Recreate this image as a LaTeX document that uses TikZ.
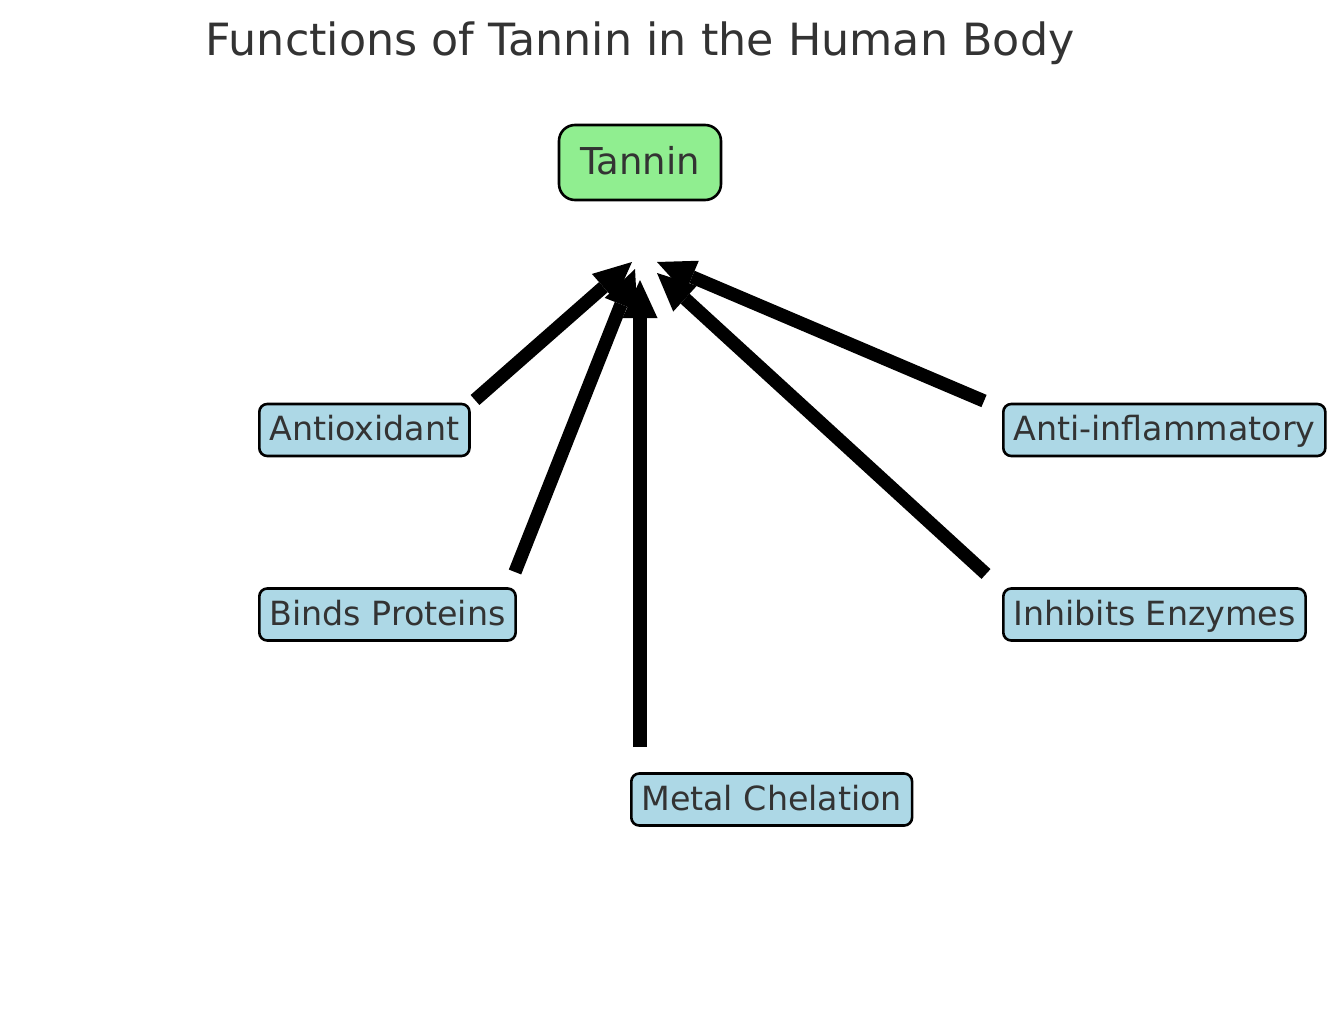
\documentclass[tikz,border=0pt]{standalone}
\usepackage{fontspec}
\setmainfont{DejaVu Sans}
\usetikzlibrary{arrows.meta}
\definecolor{txtgrey}{HTML}{333333}
\definecolor{boxblue}{HTML}{ADD8E6}
\definecolor{boxgreen}{HTML}{90EE90}
\tikzset{
  titletext/.style={font=\fontsize{44.4pt}{50pt}\selectfont, text=txtgrey, inner sep=0pt, anchor=base},
  mainbox/.style={draw=black, line width=2.6pt, fill=boxgreen, rounded corners=16pt,
    font=\fontsize{37pt}{42pt}\selectfont, text=txtgrey, inner sep=0pt,
    minimum width=162pt, minimum height=75pt, text height=28pt, text depth=3pt},
  labelbox/.style={draw=black, line width=2.6pt, fill=boxblue, rounded corners=8pt,
    font=\fontsize{33.3pt}{38pt}\selectfont, text=txtgrey, inner xsep=10pt, inner ysep=0pt,
    minimum height=52pt, text height=26pt, text depth=5pt, anchor=west},
  fatarrow/.style={draw=black, line width=13.3pt,
    -{Triangle[length=38pt, width=35pt, line width=0pt]}},
}
\begin{document}
\begin{tikzpicture}[x=1pt, y=-1pt]
  \useasboundingbox (0,0) rectangle (1334,1014);
  \node[titletext] (title) at (640,56) {Functions of Tannin in the Human Body};
  \node[mainbox] (tannin) at (640,162.5) {Tannin};
  \node[labelbox] (antiox) at (258,430) {Antioxidant};
  \node[labelbox] (binds) at (258,614.5) {Binds Proteins};
  \node[labelbox] (metal) at (630,799.5) {Metal Chelation};
  \node[labelbox] (inhib) at (1002,614.5) {Inhibits Enzymes};
  \node[labelbox] (antiinf) at (1002,430) {Anti-inflammatory};
  % arrow tails and tips
  \coordinate (antioxT) at (475,400);
  \coordinate (antioxH) at (632,262);
  \coordinate (bindsT) at (515,572);
  \coordinate (bindsH) at (635,269);
  \coordinate (metalT) at (640,747);
  \coordinate (metalH) at (640,280);
  \coordinate (inhibT) at (986,574);
  \coordinate (inhibH) at (657,273);
  \coordinate (antiinfT) at (984,401);
  \coordinate (antiinfH) at (657,262);
  \draw[fatarrow] (antioxT) -- (antioxH);
  \draw[fatarrow] (bindsT) -- (bindsH);
  \draw[fatarrow] (metalT) -- (metalH);
  \draw[fatarrow] (inhibT) -- (inhibH);
  \draw[fatarrow] (antiinfT) -- (antiinfH);
\end{tikzpicture}
\end{document}
